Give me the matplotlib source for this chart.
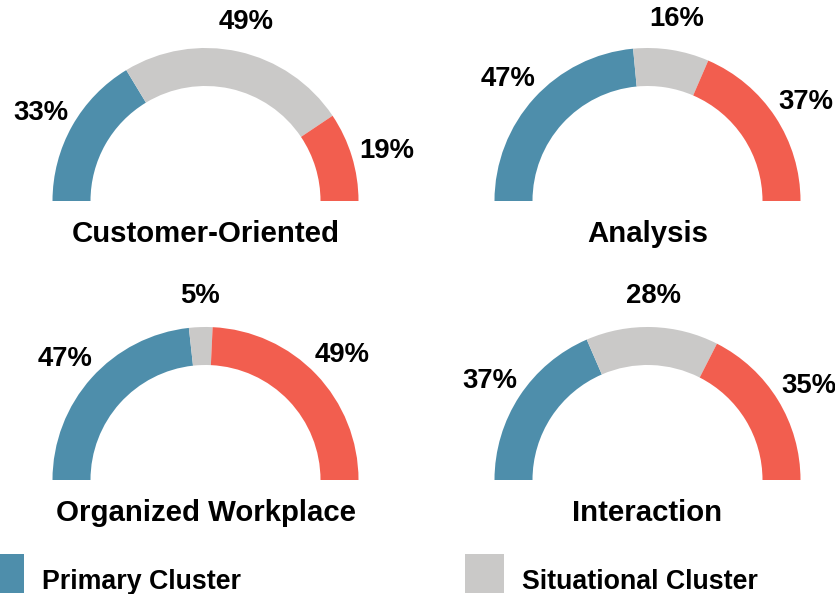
import numpy as np
import matplotlib
matplotlib.use("Agg")
import matplotlib.pyplot as plt
from matplotlib.patches import Rectangle

# ---- data ----
charts = ["Customer-Oriented", "Analysis", "Organized Workplace", "Interaction"]
primary = [33, 47, 47, 37]
situational = [49, 16, 5, 28]
third = [19, 37, 49, 35]
legend_labels = ["Primary Cluster", "Situational Cluster"]
colors = ["#4e8eab", "#cac9c8", "#f25e4f"]

W, H = 835, 594
fig = plt.figure(figsize=(W / 100, H / 100), dpi=100)
ax = fig.add_axes([0, 0, 1, 1])

plt.rcParams['font.family'] = ['Liberation Sans', 'DejaVu Sans']

centers = [(205.5, H - 201), (647.5, H - 201), (205.5, H - 480), (647.5, H - 480)]
R = 153
ring = 38

for i, name in enumerate(charts):
    vals = [primary[i], situational[i], third[i]]
    total = sum(vals)
    cx, cy = centers[i]
    wedges, _ = ax.pie(vals + [total], colors=colors + ["none"], startangle=180,
                       counterclock=False, radius=R, center=(cx, cy),
                       wedgeprops=dict(width=ring, linewidth=0))
    for w, v in zip(wedges[:3], vals):
        mid = np.deg2rad((w.theta1 + w.theta2) / 2)
        rl = R * 1.235
        ax.text(cx + rl * np.cos(mid), cy + rl * np.sin(mid) - 2, f"{v}%",
                ha="center", va="center_baseline", fontsize=19.8, fontweight="bold",
                color="black")
    ax.text(cx, cy - 30, name, ha="center", va="center_baseline", fontsize=21.2,
            fontweight="bold", color="black")

# legend (two visible entries)
leg_x = [-15, 465]
for lx, lab, col in zip(leg_x, legend_labels, colors[:2]):
    ax.add_patch(Rectangle((lx, H - 593), 39, 39, facecolor=col, edgecolor="none"))
    ax.text(lx + 57, H - 579, lab, ha="left", va="center_baseline", fontsize=19.3,
            fontweight="bold", color="black")

ax.set_xlim(0, W)
ax.set_ylim(0, H)
ax.set_aspect("auto")
ax.axis("off")
fig.savefig("out.png", dpi=100)
